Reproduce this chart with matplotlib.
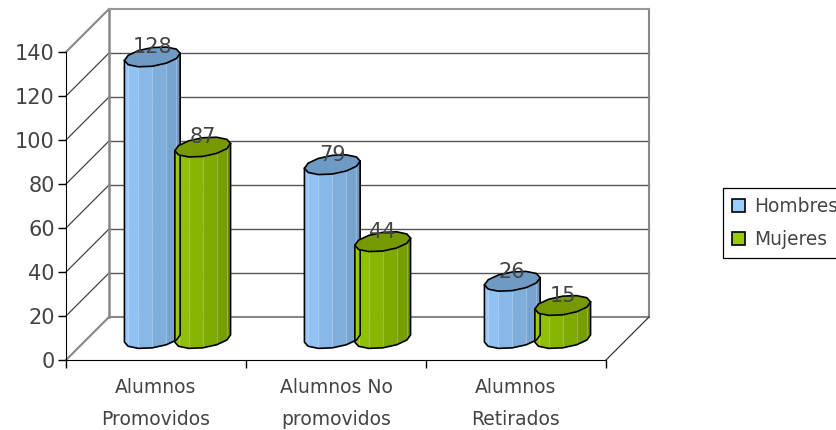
import numpy as np
import matplotlib
matplotlib.use("Agg")
import matplotlib.pyplot as plt
from matplotlib.colors import to_rgb
from matplotlib.patches import Patch

categorias = ["Alumnos\nPromovidos", "Alumnos No\npromovidos", "Alumnos\nRetirados"]
hombres = [128, 79, 26]
mujeres = [87, 44, 15]
ticks_y = [0, 20, 40, 60, 80, 100, 120, 140]

plt.rcParams["font.family"] = "DejaVu Sans"
COLOR_TEXTO = "#444444"

fig = plt.figure(figsize=(8.37, 4.30), dpi=100)
ax = fig.add_axes([66/837, 70/430, 540/837, 308/430])
ax.set_xlim(0, 3)
ax.set_ylim(0, 140)

# profundidad del 3D, en unidades de datos
DX = 43 / 180
DY = 43 / 2.2


def linea(x, y, color, lw=1.0):
    ax.plot(x, y, color=color, lw=lw, clip_on=False, zorder=1, solid_capstyle="projecting")


# paredes
for v in ticks_y[1:-1]:
    linea([DX, 3 + DX], [v + DY, v + DY], "#555555")
    linea([0, DX], [v, v + DY], "#444444", 0.9)
linea([0, DX], [ticks_y[-1], ticks_y[-1] + DY], "#888888", 1.5)
linea([DX, DX], [DY, 140 + DY], "#888888", 1.8)
linea([3 + DX, 3 + DX], [DY, 140 + DY], "#888888", 1.5)
linea([DX, 3 + DX], [140 + DY, 140 + DY], "#999999", 1.5)
linea([DX, 3 + DX], [DY, DY], "#888888", 1.5)
linea([0, DX], [0, DY], "#888888", 1.5)
linea([3, 3 + DX], [0, DY], "#333333", 0.9)


def cilindro(cx, valor, izq, der, tapa):
    # seccion poligonal, igual que el cilindro de Excel
    a = 26 / 180
    bx = 10 / 180
    by = 10 / 2.2
    n = 12
    t0 = np.arctan2(bx, a)
    t = t0 + 2 * np.pi * np.arange(n + 1) / n
    px = cx + DX / 2 + a * np.cos(t) + bx * np.sin(t)
    py = by * np.sin(t) + DY / 2
    c1 = np.array(to_rgb(izq))
    c2 = np.array(to_rgb(der))
    for k in range(n // 2, n):
        f = (k - n / 2) / (n / 2 - 1)
        col = c1 + (c2 - c1) * f
        ax.fill([px[k], px[k + 1], px[k + 1], px[k]],
                [py[k], py[k + 1], py[k + 1] + valor, py[k] + valor],
                color=col, lw=0.4, clip_on=False, zorder=3)
        if k > n // 2:
            ax.plot([px[k], px[k]], [py[k], py[k] + valor], color="white", alpha=0.25, lw=0.8,
                    clip_on=False, zorder=3)
    sx = px[n // 2:n + 1]
    sy = py[n // 2:n + 1]
    ax.plot(np.r_[sx[0], sx, sx[-1]], np.r_[sy[0] + valor, sy, sy[-1] + valor],
            color="black", lw=1.2, clip_on=False, zorder=4)
    ax.fill(px, py + valor, facecolor=tapa, edgecolor="black", lw=1.2, clip_on=False, zorder=4)
    ax.text(cx + DX / 2, valor + DY / 2 + 4.4, str(valor), ha="center", va="center",
            fontsize=15, color=COLOR_TEXTO, clip_on=False, zorder=5)


for i in range(len(categorias)):
    cilindro(i + 0.36, hombres[i], "#99CCFF", "#6E9AC2", "#6F9AC4")
    cilindro(i + 0.64, mujeres[i], "#99CC00", "#6E9400", "#779900")

for lado in ["top", "right"]:
    ax.spines[lado].set_visible(False)
ax.patch.set_visible(False)

ax.set_yticks(ticks_y)
ax.tick_params(axis="y", length=6, width=1, pad=2, labelsize=15, labelcolor=COLOR_TEXTO)
ax.set_xticks([0, 1, 2, 3])
ax.set_xticklabels([])
ax.tick_params(axis="x", which="major", length=6, width=1)
ax.set_xticks([0.5, 1.5, 2.5], minor=True)
ax.set_xticklabels(categorias, minor=True, fontsize=13.5, color=COLOR_TEXTO, linespacing=1.87)
ax.tick_params(axis="x", which="minor", length=0, pad=13)

fig.legend(handles=[Patch(facecolor="#99CCFF", edgecolor="black", lw=1.2, label="Hombres"),
                    Patch(facecolor="#99CC00", edgecolor="black", lw=1.2, label="Mujeres")],
           loc="upper left", bbox_to_anchor=(723/837, 1 - 188/430), bbox_transform=fig.transFigure,
           borderaxespad=0, fontsize=13.4, labelcolor=COLOR_TEXTO, frameon=True, fancybox=False,
           edgecolor="black", framealpha=1, handlelength=0.7, handleheight=0.7, handletextpad=0.45,
           labelspacing=0.72, borderpad=0.5).get_frame().set_linewidth(0.9)

fig.savefig("out.png", dpi=100)
